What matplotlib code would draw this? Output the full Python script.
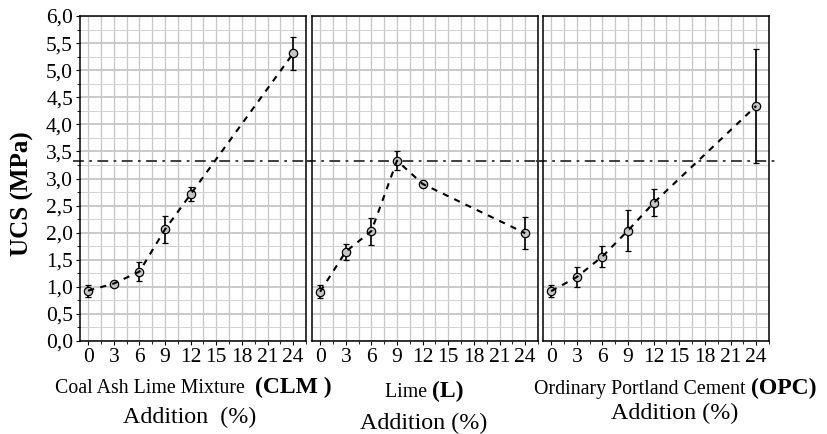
import numpy as np
import matplotlib
matplotlib.use("Agg")
import matplotlib.pyplot as plt
from matplotlib.ticker import MultipleLocator, FuncFormatter

plt.rcParams['font.family'] = ['Liberation Serif', 'DejaVu Serif']

# Daten
addition = [0, 3, 6, 9, 12, 24]
ucs_clm = [0.93, 1.06, 1.28, 2.06, 2.71, 5.31]
err_clm = [0.11, 0.03, 0.18, 0.25, 0.13, 0.31]
ucs_l = [0.91, 1.65, 2.03, 3.33, 2.90, 1.99]
err_l = [0.12, 0.15, 0.25, 0.17, 0.06, 0.30]
ucs_opc = [0.92, 1.18, 1.56, 2.04, 2.55, 4.34]
err_opc = [0.11, 0.18, 0.20, 0.37, 0.25, 1.05]
limit_ucs = 3.33

panels = [
    (ucs_clm, err_clm, 'Coal Ash Lime Mixture  ', '(CLM )', 'Addition  (%)'),
    (ucs_l, err_l, 'Lime ', '(L)', 'Addition (%)'),
    (ucs_opc, err_opc, 'Ordinary Portland Cement ', '(OPC)', 'Addition (%)'),
]

# Layout (Pixel -> Figure-Koordinaten)
W, H = 827, 434
lefts = [80, 312, 543]
width = 226
bottom, top = 341, 16
label_centers = [193, 424, 675]
label_baselines = [393, 397, 394]
add_centers = [190, 424, 675]
add_baselines = [423, 429, 419]

fig = plt.figure(figsize=(W / 100, H / 100), dpi=100)
renderer = fig.canvas.get_renderer()

for i, (ucs, err, name, abbr, add) in enumerate(panels):
    ax = fig.add_axes([lefts[i] / W, 1 - bottom / H, width / W, (bottom - top) / H])
    ax.set_xlim(-0.95, 25.5)
    ax.set_ylim(0, 6)
    ax.xaxis.set_major_locator(MultipleLocator(3))
    ax.xaxis.set_minor_locator(MultipleLocator(1.5))
    ax.yaxis.set_major_locator(MultipleLocator(0.5))
    ax.yaxis.set_minor_locator(MultipleLocator(0.25))
    ax.grid(True, which='major', axis='y', color='#c6c6c6', lw=1.3)
    ax.grid(True, which='minor', axis='y', color='#d2d2d2', lw=0.7)
    ax.grid(True, which='both', axis='x', color='#c6c6c6', lw=0.9)
    ax.set_axisbelow(True)
    for s in ax.spines.values():
        s.set_linewidth(1.1)
        s.set_color('black')
    ax.tick_params(axis='x', which='major', labelsize=15.5, length=3, pad=2)
    ax.tick_params(axis='x', which='minor', length=2)
    if i == 0:
        ax.yaxis.set_major_formatter(FuncFormatter(lambda v, p: f'{v:.1f}'.replace('.', ',')))
        ax.tick_params(axis='y', which='major', labelsize=15.5, length=3, pad=2)
        ax.tick_params(axis='y', which='minor', length=2)
    else:
        ax.tick_params(axis='y', which='both', labelleft=False, length=0)

    ax.axhline(limit_ucs, xmin=-0.03, xmax=1.03, color='#303030', lw=1.3,
               linestyle=(0, (6, 3, 1.5, 3)), clip_on=False, zorder=2)
    ax.errorbar(addition, ucs, yerr=err, fmt='o', ms=6, mfc='#c4c4c4', mec='black',
                mew=0.9, ecolor='black', elinewidth=1.2, capsize=2.5, capthick=1.2,
                zorder=3)
    ax.plot(addition, ucs, color='black', lw=1.5, dashes=(3, 3), zorder=4)

    # Beschriftung unter jedem Panel
    yb = 1 - label_baselines[i] / H
    pieces = [fig.text(0, yb, name, fontsize=14.3, va='baseline'),
              fig.text(0, yb, abbr, fontsize=17, fontweight='bold', va='baseline')]
    widths = [p.get_window_extent(renderer).width for p in pieces]
    x0 = label_centers[i] - sum(widths) / 2
    for p, w in zip(pieces, widths):
        p.set_x(x0 / W)
        x0 += w
    fig.text(add_centers[i] / W, 1 - add_baselines[i] / H, add, fontsize=17.3,
             ha='center', va='baseline')

fig.text(22 / W, 1 - 194 / H, 'UCS (MPa)', rotation=90, fontsize=18,
         fontweight='bold', ha='center', va='center')

fig.savefig('out.png', dpi=100)
